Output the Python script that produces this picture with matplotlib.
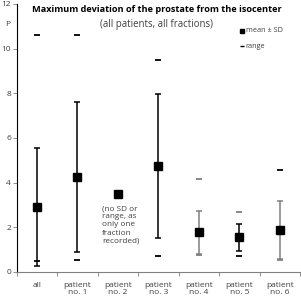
import matplotlib
matplotlib.use("Agg")
import matplotlib.pyplot as plt
import numpy as np

plt.rcParams['font.family'] = ['Open Sans', 'DejaVu Sans']

# data (mm)
groups = ["all", "patient\nno. 1", "patient\nno. 2", "patient\nno. 3",
          "patient\nno. 4", "patient\nno. 5", "patient\nno. 6"]
means = [2.91, 4.25, 3.51, 4.75, 1.77, 1.55, 1.90]
sds = [2.64, 3.35, np.nan, 3.22, 0.97, 0.62, 1.30]
range_max = [10.6, 10.6, np.nan, 9.5, 4.15, 2.69, 4.55]
range_min = [0.49, 0.54, np.nan, 0.71, 0.76, 0.71, 0.54]
bar_colors = ["black", "black", "black", "black", "#7f7f7f", "black", "#7f7f7f"]
rmax_colors = ["black", "black", "black", "black", "#7f7f7f", "#7f7f7f", "black"]

fig = plt.figure(figsize=(3.01, 2.97), dpi=100)
ax = fig.add_axes([16.5/301, 25/297, (300-16.5)/301, (272-4)/297])

x = np.arange(len(groups)) + 0.5
for i in range(len(groups)):
    if not np.isnan(sds[i]):
        ax.errorbar(x[i], means[i], yerr=sds[i], fmt='none', ecolor=bar_colors[i],
                    elinewidth=1.1, capsize=2.2, capthick=1.1, zorder=2)
        ax.plot(x[i], range_max[i], marker='_', ms=4.5, mew=1.3, color=rmax_colors[i],
                ls='none', zorder=3)
        ax.plot(x[i], range_min[i], marker='_', ms=4.5, mew=1.3, color=bar_colors[i],
                ls='none', zorder=3)
ax.plot(x, means, marker='s', ms=6.3, color='black', ls='none', zorder=4)

ax.set_xlim(0, 7)
ax.set_ylim(0, 12)
ax.set_yticks(range(0, 13, 2))
ax.set_xticks(np.arange(0, 8))
ax.set_xticklabels([])
ax.set_xticks(x, minor=True)
ax.set_xticklabels(groups, minor=True, fontsize=6, color='#404040', linespacing=1.15)
ax.tick_params(axis='x', which='minor', length=0, pad=7)
ax.tick_params(axis='x', which='major', length=3, width=0.6, color='#808080')
ax.tick_params(axis='y', length=3, width=0.6, color='#808080', labelsize=6,
               labelcolor='#404040', pad=1)
for s in ['top', 'right']:
    ax.spines[s].set_visible(False)
ax.spines['left'].set_color('black')
ax.spines['left'].set_linewidth(0.8)
ax.spines['bottom'].set_color('#808080')
ax.spines['bottom'].set_linewidth(0.8)

fig.text(8/301, 1 - 25/297, "P", fontsize=6, color='#404040', ha='center', va='center')
fig.text(157/301, 1 - 10/297, "Maximum deviation of the prostate from the isocenter",
         fontsize=6.6, fontweight='bold', ha='center', va='center')
fig.text(157/301, 1 - 24/297, "(all patients, all fractions)",
         fontsize=6.9, color='#404040', ha='center', va='center')

# legend
ax.plot(242/301, 1 - 31/297, marker='s', ms=3.5, color='black', transform=fig.transFigure,
        clip_on=False)
fig.text(245.5/301, 1 - 31/297, "mean \u00b1 SD", fontsize=5.2, color='#404040', va='center')
ax.plot(242/301, 1 - 46/297, marker='_', ms=3.5, mew=1, color='black',
        transform=fig.transFigure, clip_on=False)
fig.text(245.5/301, 1 - 46/297, "range", fontsize=5.2, color='#404040', va='center')

ax.text(2.12, 3.0, "(no SD or\nrange, as\nonly one\nfraction\nrecorded)",
        fontsize=5.9, color='#404040', ha='left', va='top', linespacing=1.25)

fig.savefig("out.png", dpi=100)
